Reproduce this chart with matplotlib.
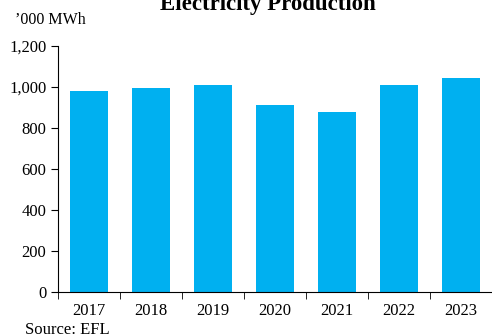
import numpy as np
import matplotlib
matplotlib.use('Agg')
import matplotlib.pyplot as plt

plt.rcParams['font.family'] = 'Liberation Serif'

years = ['2017', '2018', '2019', '2020', '2021', '2022', '2023']
production = [983, 993, 1012, 910, 876, 1008, 1046]

x = np.arange(len(years))

fig = plt.figure(figsize=(4.92, 3.34), dpi=100)
ax = fig.add_axes([0.118, 0.126, 0.882, 0.736])
ax.bar(x, production, 0.62, color='#00B0F0')

ax.set_xlim(-0.5, 6.5)
ax.set_ylim(0, 1200)
ax.set_yticks(np.arange(0, 1201, 200))
ax.set_yticklabels(['{:,}'.format(v) for v in range(0, 1201, 200)], fontsize=12)

# labels centred, tick marks at the category boundaries
ax.set_xticks(x)
ax.set_xticklabels(years, fontsize=12)
ax.tick_params(axis='x', which='major', length=0, pad=8)
ax.set_xticks(np.arange(-0.5, 7, 1), minor=True)
ax.tick_params(axis='x', which='minor', length=5, direction='out')
ax.tick_params(axis='y', length=5, direction='out')

for s in ['top', 'right']:
    ax.spines[s].set_visible(False)

fig.text(0.545, 0.988, 'Electricity Production', ha='center', va='center',
         fontsize=16.5, fontweight='bold')
fig.text(0.03, 0.94, '\u2019000 MWh', ha='left', va='center', fontsize=11.5)
fig.text(0.05, 0.012, 'Source: EFL', ha='left', va='center', fontsize=12)

fig.savefig('out.png', dpi=100)
